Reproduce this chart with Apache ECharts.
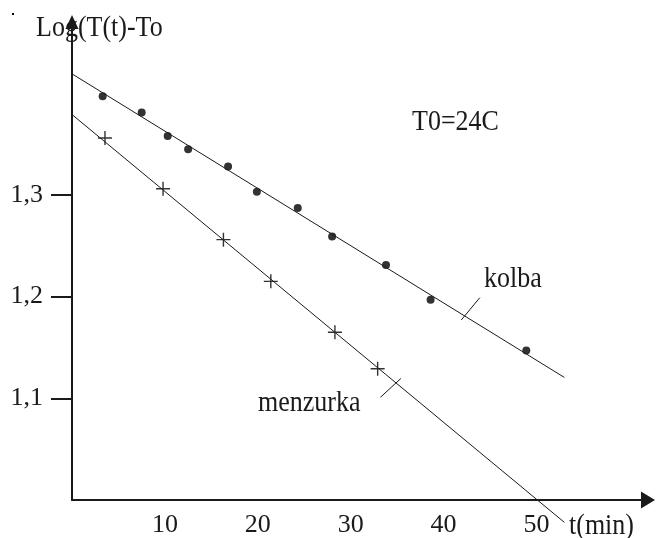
<!DOCTYPE html>
<head>
    <meta charset="UTF-8">
    <title>kolba menzurka</title>
    <script src="https://cdn.jsdelivr.net/npm/echarts@6/dist/echarts.min.js"></script>
    <style>
        html, body {margin: 0; padding: 0; background: #fff;}
        #chart {width: 656px; height: 538px;}
    </style>
</head>
<body>
<div id="chart"></div>
<script type="text/javascript">
    // t (min) and log(T(t)-To)
    var kolbaT = [3.3, 7.5, 10.3, 12.5, 16.8, 19.9, 24.3, 28.0, 33.8, 38.6, 48.9];
    var kolbaLog = [1.397, 1.381, 1.358, 1.345, 1.328, 1.303, 1.287, 1.259, 1.231, 1.197, 1.147];
    var menzT = [3.55, 9.8, 16.3, 21.4, 28.3, 32.9];
    var menzLog = [1.356, 1.306, 1.256, 1.215, 1.165, 1.129];
    // fitted straight lines (end points)
    var kolbaFit = [[0, 1.419], [53, 1.1205]];
    var menzFit = [[0, 1.379], [53, 0.978]];
    // small leader strokes next to the labels
    var kolbaLeader = [[41.9, 1.177], [43.9, 1.199]];
    var menzLeader = [[33.2, 1.101], [35.4, 1.1195]];
    var xTicks = [10, 20, 30, 40, 50];
    var yTicks = [1.1, 1.2, 1.3];

    function pairs(xs, ys) {
        var out = [];
        for (var i = 0; i < xs.length; i++) out.push([xs[i], ys[i]]);
        return out;
    }

    var serif = 'Liberation Serif';
    var ink = '#1a1a1a';
    var plus = 'path://M-0.1,-1 L0.1,-1 L0.1,-0.1 L1,-0.1 L1,0.1 L0.1,0.1 L0.1,1 L-0.1,1 L-0.1,0.1 L-1,0.1 L-1,-0.1 L-0.1,-0.1 Z';

    // annotation text, a bit stretched upward like the original
    function note(txt, x, y) {
        return {
            type: 'text', x: x, y: y, scaleY: 1.15,
            style: {text: txt, font: '26px "Liberation Serif"', fill: ink, textVerticalAlign: 'middle'}
        };
    }

    var myChart = echarts.init(document.getElementById('chart'));
    var option = {
        backgroundColor: '#fff',
        animation: false,
        grid: {left: 72, right: 8, top: 22, bottom: 36},
        xAxis: {
            type: 'value',
            min: 0,
            max: 62,
            splitLine: {show: false},
            axisTick: {show: false},
            axisLine: {
                lineStyle: {color: ink, width: 2},
                symbol: ['none', 'triangle'],
                symbolSize: [17, 14]
            },
            axisLabel: {
                customValues: xTicks,
                margin: 12,
                fontFamily: serif,
                fontSize: 26,
                color: ink
            }
        },
        yAxis: {
            type: 'value',
            min: 1.0,
            max: 1.47,
            splitLine: {show: false},
            axisLine: {
                lineStyle: {color: ink, width: 2},
                symbol: ['none', 'triangle'],
                symbolSize: [13, 14]
            },
            axisTick: {
                customValues: yTicks,
                length: 21,
                lineStyle: {color: ink, width: 2}
            },
            axisLabel: {
                customValues: yTicks,
                margin: 29,
                fontFamily: serif,
                fontSize: 26,
                color: ink,
                formatter: function (v) {
                    return v.toFixed(1).replace('.', ',');
                }
            }
        },
        series: [
            {
                name: 'kolba fit', type: 'line', data: kolbaFit, showSymbol: false, clip: false,
                lineStyle: {color: ink, width: 1}
            },
            {
                name: 'menzurka fit', type: 'line', data: menzFit, showSymbol: false, clip: false,
                lineStyle: {color: ink, width: 1}
            },
            {
                name: 'kolba leader', type: 'line', data: kolbaLeader, showSymbol: false,
                lineStyle: {color: ink, width: 1}
            },
            {
                name: 'menzurka leader', type: 'line', data: menzLeader, showSymbol: false,
                lineStyle: {color: ink, width: 1}
            },
            {
                name: 'kolba', type: 'scatter', data: pairs(kolbaT, kolbaLog),
                symbol: 'circle', symbolSize: 8,
                itemStyle: {color: '#000'}
            },
            {
                name: 'menzurka', type: 'scatter', data: pairs(menzT, menzLog),
                symbol: plus, symbolSize: 14,
                itemStyle: {color: '#000'}
            }
        ],
        graphic: [
            {type: 'rect', shape: {x: 12, y: 13, width: 2, height: 2}, style: {fill: '#000'}},
            note('Log(T(t)-To', 36, 28),
            note('T0=24C', 412, 122),
            note('kolba', 484, 279),
            note('menzurka', 258, 403),
            note('t(min)', 569, 526)
        ]
    };
    myChart.setOption(option);
</script>
</body>
</html>
